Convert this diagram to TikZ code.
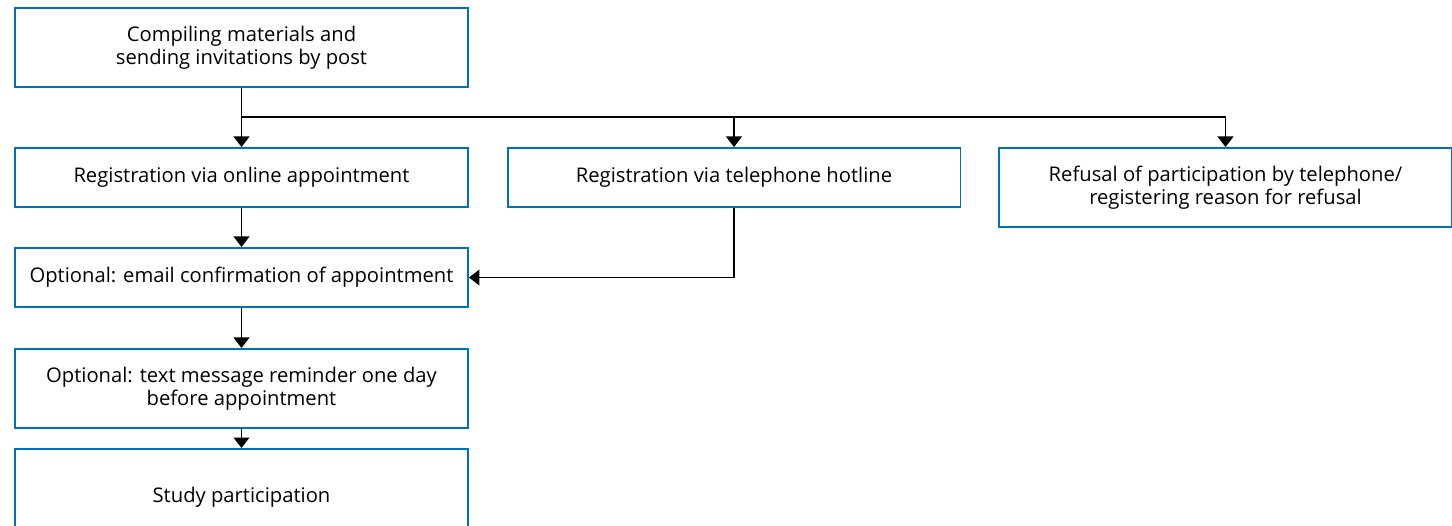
\documentclass[tikz,border=0pt]{standalone}
\usepackage{fontspec}
\setmainfont{Open Sans}
\usepackage{tikz}
\usetikzlibrary{arrows.meta}

\definecolor{boxblue}{RGB}{0,114,188}

\begin{document}
\begin{tikzpicture}[x=0.02cm,y=-0.02cm,
    box/.style={draw=boxblue, line width=1.1pt, fill=white, minimum width=9.06cm,
        minimum height=1.18cm, align=center, inner sep=0pt,
        font=\fontsize{11.5}{13.2}\selectfont},
    arr/.style={line width=0.8pt, -{Triangle[width=9pt,length=6pt]}},
    link/.style={line width=0.8pt}]

\useasboundingbox (0,0) rectangle (1452,526);

\node [box, minimum height=1.58cm] (post) at (241.5,47.5) {Compiling materials and\\sending invitations by post};

\node [box] (online) at (241.5,177.5) {Registration via online appointment};
\node [box] (hotline) at (734,177.5) {Registration via telephone hotline};
\node [box, minimum height=1.58cm] (refusal) at (1225.5,187.5) {Refusal of participation by telephone/\\registering reason for refusal};

\node [box] (email) at (241.5,277.5) {Optional: email confirmation of appointment};
\node [box, minimum height=1.58cm] (sms) at (241.5,388.5) {Optional: text message reminder one day\\before appointment};
\node [box, minimum height=1.92cm] (study) at (241.5,497) {Study participation};

\coordinate (split) at (241.5,117);

\draw [arr] (post) -- (online);
\draw [link] (split) -- (split -| refusal);
\foreach \i in {hotline,refusal}
    \draw [arr] (split -| \i) -- (\i);

\draw [arr] (online) -- (email);
\draw [arr] (hotline.south) |- (email.east);
\draw [arr] (email) -- (sms);
\draw [arr] (sms) -- (study);

\end{tikzpicture}
\end{document}
